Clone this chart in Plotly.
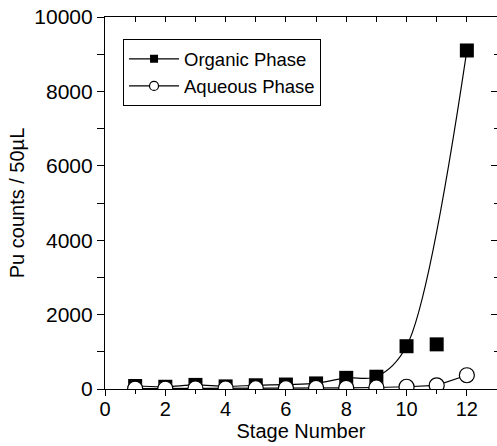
import plotly.graph_objects as go

stages = [1, 2, 3, 4, 5, 6, 7, 8, 9, 10, 11, 12]
organic = [80, 60, 110, 70, 100, 120, 150, 300, 330, 1150, 1200, 9100]
aqueous = [10, 10, 15, 15, 20, 25, 30, 30, 40, 60, 100, 370]
curve_excluded_stage = 11

x_ticks = [0, 2, 4, 6, 8, 10, 12]
y_ticks = [0, 2000, 4000, 6000, 8000, 10000]

FONT = "Liberation Sans, Arial, Helvetica, sans-serif"

cx = [s for s in stages if s != curve_excluded_stage]
cy = [v for s, v in zip(stages, organic) if s != curve_excluded_stage]

fig = go.Figure()

# organic fitted curve (line only)
fig.add_trace(go.Scatter(x=cx, y=cy, mode="lines", line=dict(color="black", width=1.2, shape="spline", smoothing=0.9),
                         showlegend=False, hoverinfo="skip"))
# organic markers
fig.add_trace(go.Scatter(x=stages, y=organic, mode="markers", name="Organic Phase",
                         marker=dict(symbol="square", size=14, color="black", line=dict(color="black", width=0)),
                         showlegend=False))
# aqueous (on top)
fig.add_trace(go.Scatter(x=stages, y=aqueous, mode="lines+markers", name="Aqueous Phase",
                         line=dict(color="black", width=1.2),
                         marker=dict(symbol="circle", size=15, color="white", line=dict(color="black", width=1.2)),
                         showlegend=False))
# legend entries
fig.add_trace(go.Scatter(x=[None], y=[None], mode="lines+markers", name="Organic Phase",
                         line=dict(color="black", width=1.2),
                         marker=dict(symbol="square", size=8, color="black")))
fig.add_trace(go.Scatter(x=[None], y=[None], mode="lines+markers", name="Aqueous Phase",
                         line=dict(color="black", width=1.2),
                         marker=dict(symbol="circle", size=9, color="white", line=dict(color="black", width=1.2))))

fig.update_layout(
    width=497, height=446,
    margin=dict(l=105, r=0, t=17, b=57),
    paper_bgcolor="white", plot_bgcolor="white",
    font=dict(family=FONT, size=20, color="black"),
    showlegend=True,
    legend=dict(x=0.046, y=0.94, xanchor="left", yanchor="top",
                bordercolor="black", borderwidth=1, bgcolor="white",
                font=dict(size=18.5, color="black"), itemwidth=50, tracegroupgap=0),
    xaxis=dict(range=[0, 13], tickvals=x_ticks, ticktext=[str(v) for v in x_ticks],
               tickfont=dict(size=20, color="black"),
               ticks="outside", ticklen=6, tickwidth=1, tickcolor="black",
               ticklabelstandoff=-4,
               showline=True, linecolor="black", linewidth=1.2, showgrid=False, zeroline=False,
               minor=dict(dtick=1, ticks="outside", ticklen=4, tickcolor="black"),
               title=dict(text="Stage Number", standoff=0, font=dict(size=20, color="black"))),
    yaxis=dict(range=[0, 10000], tickvals=y_ticks, ticktext=[str(v) for v in y_ticks],
               tickfont=dict(size=21, color="black"),
               ticks="outside", ticklen=7, tickwidth=1, tickcolor="black",
               showline=True, linecolor="black", linewidth=1.2, showgrid=False, zeroline=False,
               minor=dict(dtick=1000, ticks="outside", ticklen=7, tickcolor="black"),
               title=dict(text="Pu counts / 50µL", standoff=4, font=dict(size=20, color="black"))),
    xaxis2=dict(range=[0, 13], overlaying="x", side="top", showticklabels=False,
                tickvals=list(range(0, 14)), ticks="inside", ticklen=5, tickcolor="black",
                showline=True, linecolor="black", linewidth=1.2, showgrid=False, zeroline=False),
    yaxis2=dict(range=[0, 10000], overlaying="y", side="right", showticklabels=False,
                tickvals=list(range(0, 10001, 2000)), ticks="inside", ticklen=6, tickcolor="black",
                minor=dict(dtick=1000, ticks="inside", ticklen=3, tickcolor="black"),
                showline=False, showgrid=False, zeroline=False),
)
fig.add_trace(go.Scatter(x=[None], y=[None], xaxis="x2", yaxis="y2", showlegend=False, hoverinfo="skip"))

fig.write_html("out.html")
